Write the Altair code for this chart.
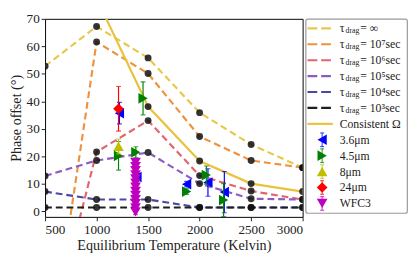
import altair as alt
import pandas as pd

FONT = "Liberation Serif"

# ---------------- data ----------------
temps = [500, 1000, 1500, 2000, 2500, 3000]
tau_inf = [52.8, 67.2, 55.8, 35.9, 24.3, 15.9]
tau_1e7 = [-63.0, 61.6, 50.1, 27.2, 18.5, 15.9]
tau_1e6 = [-52.0, 21.6, 33.0, 13.0, 7.4, 4.3]
tau_1e5 = [12.9, 18.5, 21.4, 10.1, 4.6, 4.3]
tau_1e4 = [7.2, 4.3, 4.3, 1.4, 1.4, 1.4]
tau_1e3 = [1.4, 1.4, 1.4, 1.4, 1.4, 1.4]
consistent_T = [1000, 1500, 2000, 2500, 3000]
consistent_v = [77.4, 38.1, 18.3, 10.1, 7.2]

model_keys = ["∞", "10⁷sec", "10⁶sec", "10⁵sec", "10⁴sec", "10³sec"]
model_vals = [tau_inf, tau_1e7, tau_1e6, tau_1e5, tau_1e4, tau_1e3]
model_colors = ["#E8C84A", "#F0913E", "#E3646E", "#8D5CC0", "#4B48A3", "#1E1E1E"]
consistent_color = "#E9C23E"

ch1_T = [1222, 1392, 1874, 2081, 2240]
ch1_v = [35.7, 12.5, 9.9, 10.5, 7.0]
ch1_e = [3.9, 1.5, 1.0, 5.0, 7.5]

ch2_T = [1213, 1381, 1451, 1874, 2065, 2233]
ch2_v = [20.2, 21.5, 41.1, 7.2, 13.2, 4.1]
ch2_e = [5.2, 2.0, 6.0, 1.0, 3.3, 6.0]

ch8_T = [1213]
ch8_v = [23.6]
ch8_e = [2.7]

ch24_T = [1213]
ch24_v = [37.3]
ch24_e = [8.1]

wfc3_T = [1378] * 13
wfc3_v = [17.8, 16.3, 14.8, 13.3, 11.8, 10.3, 8.8, 7.3, 5.8, 4.3, 2.8, 1.3, -0.2]
wfc3_e = [1.0] * 13

obs_names = ["3.6μm", "4.5μm", "8μm", "24μm", "WFC3"]
obs_sets = [(ch1_T, ch1_v, ch1_e), (ch2_T, ch2_v, ch2_e), (ch8_T, ch8_v, ch8_e),
            (ch24_T, ch24_v, ch24_e), (wfc3_T, wfc3_v, wfc3_e)]
obs_colors = ["#0000FF", "#008000", "#BFBF00", "#FF0000", "#BF00BF"]
obs_shapes = ["triangle-left", "triangle-right", "triangle-up", "diamond", "triangle-down"]
y_ticks = [0, 10, 20, 30, 40, 50, 60, 70]

# ---------------- main panel ----------------
xs = alt.Scale(domain=[500, 3000], nice=False, zero=False)
ys = alt.Scale(domain=[-2, 70], nice=False, zero=False)
xax = alt.Axis(values=temps, format="d", grid=False, title="Equilibrium Temperature (Kelvin)",
               tickSize=4, labelPadding=2, domain=False, titlePadding=3)
yax = alt.Axis(values=y_ticks, grid=False, title="Phase offset (°)", labelOverlap=False,
               tickSize=4, labelPadding=2, domain=False, titlePadding=3)


def X(f="T"):
    return alt.X(f + ":Q", scale=xs, axis=xax)


def Yq(f="v"):
    return alt.Y(f + ":Q", scale=ys, axis=yax)


layers = []
for key, vals, col in zip(model_keys, model_vals, model_colors):
    df = pd.DataFrame({"T": temps, "v": vals})
    layers.append(alt.Chart(df).mark_line(color=col, strokeDash=[7, 4], strokeWidth=2.2, clip=True)
                  .encode(x=X(), y=Yq()))

cons_df = pd.DataFrame({"T": consistent_T, "v": consistent_v})
layers.append(alt.Chart(cons_df).mark_line(color=consistent_color, strokeWidth=2.2, clip=True)
              .encode(x=X(), y=Yq()))

dots = []
for vals in model_vals:
    for t, v in zip(temps, vals):
        dots.append({"T": t, "v": v})
for t, v in zip(consistent_T, consistent_v):
    dots.append({"T": t, "v": v})
layers.append(alt.Chart(pd.DataFrame(dots)).mark_circle(color="#111111", size=50, opacity=0.85, clip=True)
              .encode(x=X(), y=Yq()))

for name, (T, v, e), col, shp in zip(obs_names, obs_sets, obs_colors, obs_shapes):
    df = pd.DataFrame({"T": T, "v": v, "lo": [a - b for a, b in zip(v, e)], "hi": [a + b for a, b in zip(v, e)]})
    base = alt.Chart(df)
    layers.append(base.mark_rule(color=col, strokeWidth=1.2, clip=True)
                  .encode(x=X(), y=Yq("lo"), y2="hi:Q"))
    layers.append(base.mark_tick(color=col, orient="horizontal", size=5, thickness=1.2, clip=True)
                  .encode(x=X(), y=Yq("lo")))
    layers.append(base.mark_tick(color=col, orient="horizontal", size=5, thickness=1.2, clip=True)
                  .encode(x=X(), y=Yq("hi")))
    layers.append(base.mark_point(shape=shp, filled=True, color=col, size=120, opacity=1, clip=True)
                  .encode(x=X(), y=Yq()))

main = alt.layer(*layers).properties(width=264, height=203,
                                     view=alt.ViewBackground(stroke="black", strokeWidth=1))

# ---------------- legend panel ----------------
rows = list(range(12))
lys = alt.Scale(type="point", domain=rows, padding=0.6)

leg_lines = pd.DataFrame({"row": rows[:6], "c": model_colors})
leg_cons = pd.DataFrame({"row": [6]})
leg_tau = pd.DataFrame({"row": rows[:6], "txt": ["= " + k for k in model_keys]})
leg_other = pd.DataFrame({"row": [6] + rows[7:], "label": ["Consistent Ω"] + obs_names})

Y = alt.Y("row:O", scale=lys, axis=None)
lparts = [
    alt.Chart(leg_lines).mark_rule(strokeDash=[10, 4], strokeWidth=2.2)
    .encode(x=alt.value(2), x2=alt.value(26), y=Y,
            color=alt.Color("c:N", scale=None)),
    alt.Chart(leg_cons).mark_rule(strokeWidth=2.2, color=consistent_color)
    .encode(x=alt.value(2), x2=alt.value(28), y=Y),
]
for i, (col, shp) in enumerate(zip(obs_colors, obs_shapes)):
    d = pd.DataFrame({"row": [7 + i]})
    b = alt.Chart(d)
    lparts.append(b.mark_tick(color=col, orient="vertical", size=14, thickness=1.2).encode(x=alt.value(17), y=Y))
    lparts.append(b.mark_tick(color=col, orient="horizontal", size=4, thickness=1.2, yOffset=-7).encode(x=alt.value(17), y=Y))
    lparts.append(b.mark_tick(color=col, orient="horizontal", size=4, thickness=1.2, yOffset=7).encode(x=alt.value(17), y=Y))
    lparts.append(b.mark_point(shape=shp, filled=True, color=col, size=120, opacity=1).encode(x=alt.value(17), y=Y))

lparts += [
    alt.Chart(leg_tau).mark_text(text="τ", font=FONT, fontSize=12, align="left", baseline="middle", color="#222")
    .encode(x=alt.value(35), y=Y),
    alt.Chart(leg_tau).mark_text(text="drag", font=FONT, fontSize=8, align="left", baseline="middle", dy=3, color="#222")
    .encode(x=alt.value(41), y=Y),
    alt.Chart(leg_tau).mark_text(font=FONT, fontSize=12, align="left", baseline="middle", color="#222")
    .encode(x=alt.value(56), y=Y, text="txt:N"),
    alt.Chart(leg_other).mark_text(font=FONT, fontSize=12, align="left", baseline="middle", color="#222")
    .encode(x=alt.value(35), y=Y, text="label:N"),
]
legend = alt.layer(*lparts).properties(width=104, height=199,
                                       view=alt.ViewBackground(stroke="#999999", strokeWidth=1.2, cornerRadius=2))

chart = alt.hconcat(main, legend, spacing=1).properties(
    padding={"left": 0, "top": 0, "right": 0, "bottom": 0}
).configure(font=FONT).configure_axis(
    labelFont=FONT, titleFont=FONT, labelFontSize=13.5, titleFontSize=14.5,
    titleFontWeight="normal", labelColor="#222", titleColor="#222",
    tickColor="#222"
).configure_view(stroke="black")

chart.save("out.html", embed_options={"renderer": "svg", "actions": False})
